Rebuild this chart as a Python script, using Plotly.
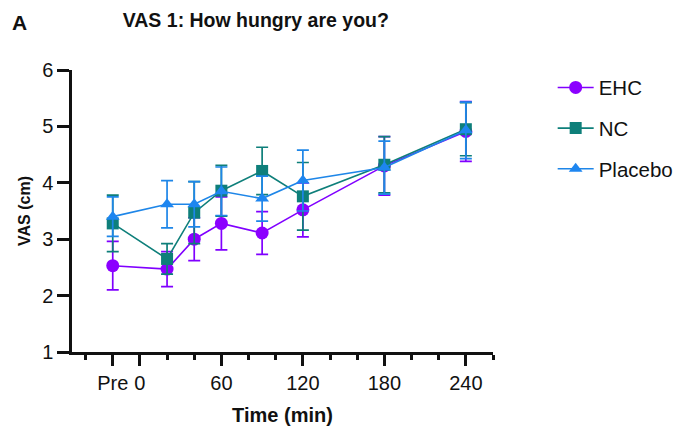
import plotly.graph_objects as go

times = [-20, 20, 40, 60, 90, 120, 180, 240]

ehc = [2.53, 2.47, 3.00, 3.28, 3.11, 3.52, 4.30, 4.91]
ehc_err = [0.43, 0.31, 0.38, 0.47, 0.38, 0.48, 0.52, 0.53]

nc = [3.28, 2.65, 3.47, 3.86, 4.21, 3.76, 4.32, 4.95]
nc_err = [0.50, 0.27, 0.55, 0.45, 0.42, 0.60, 0.50, 0.47]

placebo = [3.40, 3.62, 3.62, 3.85, 3.72, 4.04, 4.27, 4.93]
placebo_err = [0.35, 0.42, 0.40, 0.43, 0.40, 0.54, 0.47, 0.50]

tick_vals = [-20, 0, 60, 120, 180, 240]
tick_text = ["Pre", "0", "60", "120", "180", "240"]
y_ticks = [1, 2, 3, 4, 5, 6]

FONT = "Liberation Sans, Arial, sans-serif"

series = [
    ("EHC", ehc, ehc_err, "#8000FF", "#8B00FF", "circle", 13),
    ("NC", nc, nc_err, "#0E7F7A", "#0E7F7A", "square", 12),
    ("Placebo", placebo, placebo_err, "#1E86E8", "#1E86F0", "triangle-up", 12),
]

fig = go.Figure()
for name, vals, err, lc, mc, sym, sz in series:
    fig.add_trace(go.Scatter(
        x=times, y=vals, name=name, mode="lines+markers",
        line=dict(color=lc, width=1.6),
        marker=dict(color=mc, symbol=sym, size=sz, line=dict(width=0)),
        error_y=dict(type="data", array=err, visible=True, color=lc,
                     thickness=1.7, width=6),
        legendgroup=name,
    ))

fig.update_layout(
    width=684, height=428,
    margin=dict(l=72, r=191, t=70, b=76, autoexpand=False),
    paper_bgcolor="white", plot_bgcolor="white",
    font=dict(family=FONT, size=20, color="#111111"),
    title=dict(text="<b>VAS 1: How hungry are you?</b>", x=0.374, xanchor="center",
               y=0.953, yanchor="middle", font=dict(size=19.5, family=FONT, color="#111111")),
    showlegend=True,
    legend=dict(xref="container", yref="container", x=0.808, y=0.842,
                xanchor="left", yanchor="top", itemwidth=36,
                font=dict(size=20.5, family=FONT), tracegroupgap=11,
                bgcolor="rgba(0,0,0,0)"),
    annotations=[dict(text="<b>A</b>", xref="paper", yref="paper",
                      x=-0.147, y=1.168, xanchor="left", yanchor="middle",
                      showarrow=False, font=dict(size=21, family=FONT, color="#111111"))],
)

fig.update_xaxes(
    range=[-50, 260], showgrid=False, zeroline=False, automargin=False,
    showline=True, linecolor="#111111", linewidth=2.5,
    tickmode="array", tickvals=tick_vals, ticktext=tick_text,
    ticks="outside", ticklen=11, tickwidth=2.5, tickcolor="#111111",
    tickfont=dict(size=20, family=FONT),
    minor=dict(dtick=20, tick0=0, ticks="outside", ticklen=5, tickwidth=2.5, tickcolor="#111111"),
    title=dict(text="<b>Time (min)</b>", font=dict(size=20, family=FONT), standoff=16),
)
fig.update_yaxes(
    range=[1, 6], showgrid=False, zeroline=False, automargin=False,
    showline=True, linecolor="#111111", linewidth=2.5,
    tickmode="array", tickvals=y_ticks,
    ticks="outside", ticklen=12, tickwidth=2.5, tickcolor="#111111",
    tickfont=dict(size=20, family=FONT),
    title=dict(text="<b>VAS (cm)</b>", font=dict(size=16, family=FONT), standoff=8),
)

fig.write_html("out.html")
